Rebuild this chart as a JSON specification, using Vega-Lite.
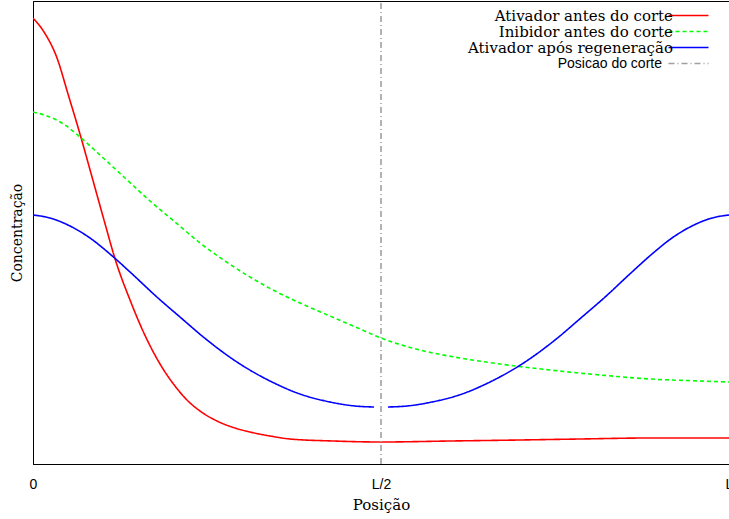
{
  "$schema": "https://vega.github.io/schema/vega-lite/v6.json",
  "width": 696,
  "height": 463,
  "autosize": {"type": "none"},
  "padding": {"left": 33, "top": 1, "right": 0, "bottom": 55},
  "background": "white",
  "config": {
    "view": {"stroke": "#000000", "strokeWidth": 1},
    "axis": {"minExtent": 0, "maxExtent": 100}
  },
  "data": {
    "values": [
      {"serie": "Ativador antes do corte", "seg": "a", "x": 0, "y": 446},
      {"serie": "Ativador antes do corte", "seg": "a", "x": 0.0158, "y": 432},
      {"serie": "Ativador antes do corte", "seg": "a", "x": 0.0345, "y": 406},
      {"serie": "Ativador antes do corte", "seg": "a", "x": 0.0503, "y": 370},
      {"serie": "Ativador antes do corte", "seg": "a", "x": 0.0675, "y": 330},
      {"serie": "Ativador antes do corte", "seg": "a", "x": 0.0848, "y": 287},
      {"serie": "Ativador antes do corte", "seg": "a", "x": 0.102, "y": 244},
      {"serie": "Ativador antes do corte", "seg": "a", "x": 0.1193, "y": 202},
      {"serie": "Ativador antes do corte", "seg": "a", "x": 0.1394, "y": 164},
      {"serie": "Ativador antes do corte", "seg": "a", "x": 0.158, "y": 133},
      {"serie": "Ativador antes do corte", "seg": "a", "x": 0.1825, "y": 100},
      {"serie": "Ativador antes do corte", "seg": "a", "x": 0.204, "y": 78},
      {"serie": "Ativador antes do corte", "seg": "a", "x": 0.2213, "y": 64},
      {"serie": "Ativador antes do corte", "seg": "a", "x": 0.24, "y": 53},
      {"serie": "Ativador antes do corte", "seg": "a", "x": 0.2644, "y": 43},
      {"serie": "Ativador antes do corte", "seg": "a", "x": 0.2902, "y": 36},
      {"serie": "Ativador antes do corte", "seg": "a", "x": 0.3118, "y": 32},
      {"serie": "Ativador antes do corte", "seg": "a", "x": 0.3405, "y": 28},
      {"serie": "Ativador antes do corte", "seg": "a", "x": 0.3693, "y": 25},
      {"serie": "Ativador antes do corte", "seg": "a", "x": 0.431, "y": 23},
      {"serie": "Ativador antes do corte", "seg": "a", "x": 0.5, "y": 22},
      {"serie": "Ativador antes do corte", "seg": "a", "x": 0.5991, "y": 23},
      {"serie": "Ativador antes do corte", "seg": "a", "x": 0.6997, "y": 24},
      {"serie": "Ativador antes do corte", "seg": "a", "x": 0.7859, "y": 25},
      {"serie": "Ativador antes do corte", "seg": "a", "x": 0.8865, "y": 26},
      {"serie": "Ativador antes do corte", "seg": "a", "x": 1, "y": 26},

      {"serie": "Inibidor antes do corte", "seg": "a", "x": 0, "y": 352},
      {"serie": "Inibidor antes do corte", "seg": "a", "x": 0.0244, "y": 347},
      {"serie": "Inibidor antes do corte", "seg": "a", "x": 0.046, "y": 339},
      {"serie": "Inibidor antes do corte", "seg": "a", "x": 0.0675, "y": 327},
      {"serie": "Inibidor antes do corte", "seg": "a", "x": 0.0963, "y": 309},
      {"serie": "Inibidor antes do corte", "seg": "a", "x": 0.1322, "y": 286},
      {"serie": "Inibidor antes do corte", "seg": "a", "x": 0.1681, "y": 263},
      {"serie": "Inibidor antes do corte", "seg": "a", "x": 0.204, "y": 242},
      {"serie": "Inibidor antes do corte", "seg": "a", "x": 0.24, "y": 221},
      {"serie": "Inibidor antes do corte", "seg": "a", "x": 0.2759, "y": 203},
      {"serie": "Inibidor antes do corte", "seg": "a", "x": 0.3118, "y": 187},
      {"serie": "Inibidor antes do corte", "seg": "a", "x": 0.3477, "y": 173},
      {"serie": "Inibidor antes do corte", "seg": "a", "x": 0.3836, "y": 161},
      {"serie": "Inibidor antes do corte", "seg": "a", "x": 0.4267, "y": 148},
      {"serie": "Inibidor antes do corte", "seg": "a", "x": 0.4698, "y": 135},
      {"serie": "Inibidor antes do corte", "seg": "a", "x": 0.5, "y": 126},
      {"serie": "Inibidor antes do corte", "seg": "a", "x": 0.556, "y": 114},
      {"serie": "Inibidor antes do corte", "seg": "a", "x": 0.6135, "y": 106},
      {"serie": "Inibidor antes do corte", "seg": "a", "x": 0.671, "y": 100},
      {"serie": "Inibidor antes do corte", "seg": "a", "x": 0.7428, "y": 94},
      {"serie": "Inibidor antes do corte", "seg": "a", "x": 0.8147, "y": 89},
      {"serie": "Inibidor antes do corte", "seg": "a", "x": 0.8865, "y": 85},
      {"serie": "Inibidor antes do corte", "seg": "a", "x": 0.9583, "y": 83},
      {"serie": "Inibidor antes do corte", "seg": "a", "x": 1, "y": 82},

      {"serie": "Ativador após regeneração", "seg": "a", "x": 0, "y": 249},
      {"serie": "Ativador após regeneração", "seg": "a", "x": 0.0244, "y": 246},
      {"serie": "Ativador após regeneração", "seg": "a", "x": 0.0532, "y": 238},
      {"serie": "Ativador após regeneração", "seg": "a", "x": 0.0819, "y": 226},
      {"serie": "Ativador após regeneração", "seg": "a", "x": 0.1106, "y": 210},
      {"serie": "Ativador após regeneração", "seg": "a", "x": 0.1394, "y": 192},
      {"serie": "Ativador após regeneração", "seg": "a", "x": 0.1796, "y": 166},
      {"serie": "Ativador após regeneração", "seg": "a", "x": 0.2112, "y": 147},
      {"serie": "Ativador após regeneração", "seg": "a", "x": 0.25, "y": 124},
      {"serie": "Ativador após regeneração", "seg": "a", "x": 0.2974, "y": 100},
      {"serie": "Ativador após regeneração", "seg": "a", "x": 0.3405, "y": 83},
      {"serie": "Ativador após regeneração", "seg": "a", "x": 0.3836, "y": 70},
      {"serie": "Ativador após regeneração", "seg": "a", "x": 0.4267, "y": 62},
      {"serie": "Ativador após regeneração", "seg": "a", "x": 0.4626, "y": 58},
      {"serie": "Ativador após regeneração", "seg": "a", "x": 0.49, "y": 57},
      {"serie": "Ativador após regeneração", "seg": "b", "x": 0.51, "y": 57},
      {"serie": "Ativador após regeneração", "seg": "b", "x": 0.5374, "y": 58},
      {"serie": "Ativador após regeneração", "seg": "b", "x": 0.5733, "y": 62},
      {"serie": "Ativador após regeneração", "seg": "b", "x": 0.6164, "y": 70},
      {"serie": "Ativador após regeneração", "seg": "b", "x": 0.6595, "y": 83},
      {"serie": "Ativador após regeneração", "seg": "b", "x": 0.7026, "y": 100},
      {"serie": "Ativador após regeneração", "seg": "b", "x": 0.75, "y": 124},
      {"serie": "Ativador após regeneração", "seg": "b", "x": 0.7888, "y": 147},
      {"serie": "Ativador após regeneração", "seg": "b", "x": 0.8204, "y": 166},
      {"serie": "Ativador após regeneração", "seg": "b", "x": 0.8606, "y": 192},
      {"serie": "Ativador após regeneração", "seg": "b", "x": 0.8894, "y": 210},
      {"serie": "Ativador após regeneração", "seg": "b", "x": 0.9181, "y": 226},
      {"serie": "Ativador após regeneração", "seg": "b", "x": 0.9468, "y": 238},
      {"serie": "Ativador após regeneração", "seg": "b", "x": 0.9756, "y": 246},
      {"serie": "Ativador após regeneração", "seg": "b", "x": 1, "y": 249},

      {"serie": "Posicao do corte", "seg": "a", "x": 0.5, "y": 0},
      {"serie": "Posicao do corte", "seg": "a", "x": 0.5, "y": 463}
    ]
  },
  "mark": {"type": "line", "interpolate": "monotone", "clip": true},
  "encoding": {
    "x": {
      "field": "x",
      "type": "quantitative",
      "scale": {"domain": [0, 1], "nice": false, "zero": false},
      "axis": {
        "values": [0, 0.5, 1],
        "labelExpr": "datum.value == 0 ? '0' : (datum.value == 0.5 ? 'L/2' : 'L')",
        "ticks": false,
        "grid": false,
        "domainColor": "#000000",
        "labelFont": "Liberation Sans",
        "labelFontSize": 14,
        "labelColor": "#000000",
        "labelPadding": 13,
        "labelFlush": false,
        "labelOverlap": false,
        "labelBound": false,
        "title": "Posição",
        "titleFont": "DejaVu Serif",
        "titleFontSize": 15,
        "titleFontWeight": "normal",
        "titleColor": "#000000",
        "titlePadding": 6
      }
    },
    "y": {
      "field": "y",
      "type": "quantitative",
      "scale": {"domain": [0, 463], "nice": false},
      "axis": {
        "labels": false,
        "ticks": false,
        "grid": false,
        "domainColor": "#000000",
        "title": "Concentração",
        "titleFont": "DejaVu Serif",
        "titleFontSize": 14,
        "titleFontWeight": "normal",
        "titleColor": "#000000",
        "titlePadding": 9
      }
    },
    "detail": {"field": "seg"},
    "color": {
      "field": "serie",
      "type": "nominal",
      "scale": {
        "domain": ["Ativador antes do corte", "Inibidor antes do corte", "Ativador após regeneração", "Posicao do corte"],
        "range": ["#ff0000", "#00ff00", "#0000ff", "#a0a0a0"]
      },
      "legend": {
        "title": null,
        "orient": "none",
        "legendX": 648,
        "legendY": 7,
        "direction": "vertical",
        "symbolType": "M-4,0H4",
        "symbolSize": 100,
        "labelAlign": "right",
        "labelOffset": -23,
        "labelFont": "DejaVu Serif",
        "labelFontSize": 15,
        "labelColor": "#000000",
        "labelLimit": 400,
        "rowPadding": -1,
        "padding": 0,
        "encode": {
          "labels": {
            "update": {
              "font": {"signal": "datum.value == 'Posicao do corte' ? 'Liberation Sans' : 'DejaVu Serif'"},
              "fontSize": {"signal": "datum.value == 'Posicao do corte' ? 14 : 15"},
              "dx": {"signal": "datum.value == 'Posicao do corte' ? -11 : 0"}
            }
          }
        }
      }
    },
    "strokeDash": {
      "field": "serie",
      "type": "nominal",
      "scale": {
        "domain": ["Ativador antes do corte", "Inibidor antes do corte", "Ativador após regeneração", "Posicao do corte"],
        "range": [[1, 0], [4, 3], [1, 0], [6, 3, 1, 3]]
      }
    },
    "strokeWidth": {
      "field": "serie",
      "type": "nominal",
      "scale": {
        "domain": ["Ativador antes do corte", "Inibidor antes do corte", "Ativador após regeneração", "Posicao do corte"],
        "range": [1.6, 1.6, 0.9, 1]
      }
    }
  }
}
